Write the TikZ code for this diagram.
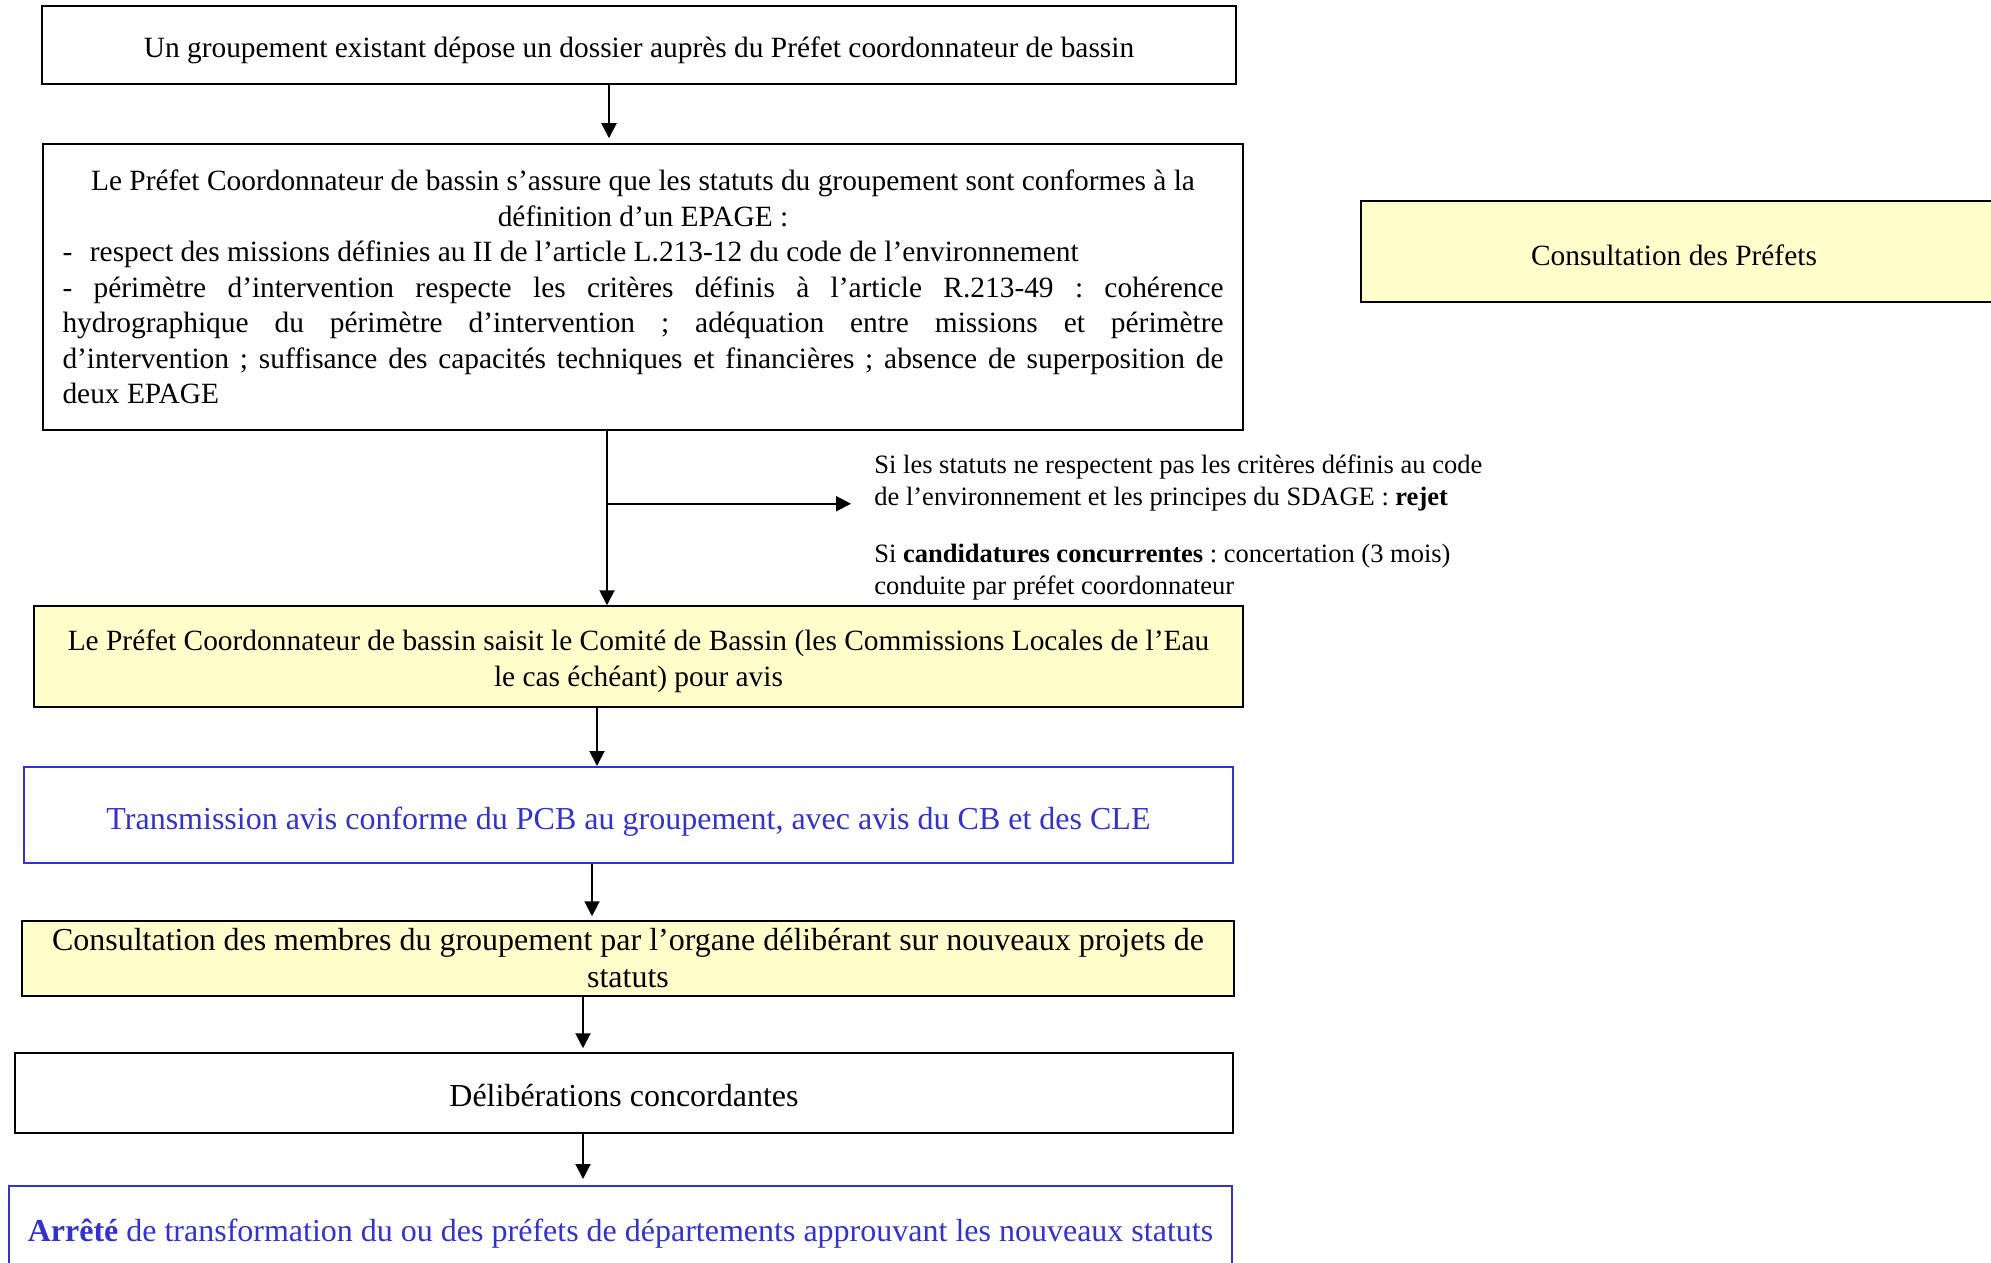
\documentclass[tikz,border=0pt]{standalone}
\usepackage{fontspec}
\setmainfont{Liberation Serif}
\usetikzlibrary{arrows.meta}
\usetikzlibrary{positioning}
\definecolor{jaunepale}{HTML}{FFFFCC}
\definecolor{bleuavis}{HTML}{3333CC}
\frenchspacing
\tikzset{
	haut/.initial=1.1em,
	etape/.style={
		draw,
		rectangle,
		line width=0.75pt,
		inner sep=0pt,
		align=center,
		font=\fontsize{14.7}{18}\selectfont,
		execute at begin node={\rule{0pt}{\pgfkeysvalueof{/tikz/haut}}}
	},
	grand/.style={
		font=\fontsize{16}{18.5}\selectfont
	},
	jaune/.style={
		etape,
		fill=jaunepale,
	},
	bleu/.style={
		etape,
		draw=bleuavis,
		line width=1pt,
		text=bleuavis,
	},
	note/.style={
		inner sep=0pt,
		align=left,
		anchor=west,
		font=\fontsize{13.25}{16}\selectfont
	},
	fleche/.style={
		line width=1pt,
		-{Triangle[length=7.5pt,width=7.5pt]}
	},
}

\begin{document}
\begin{tikzpicture}[x=0.5pt,y=-0.5pt]
		\useasboundingbox (0,0) rectangle (1991,1263);

		\node[etape, minimum width=597pt, minimum height=39pt] (depot) at (639,45) {Un groupement existant dépose un dossier auprès du Préfet coordonnateur de bassin};

		\node[draw, rectangle, line width=0.75pt, inner sep=0pt, minimum width=600pt, minimum height=143pt, text width=580.5pt, align=justify,
			font=\fontsize{14.7}{17.75}\selectfont] (examen) at (643,287) {%
			{\centering Le Préfet Coordonnateur de bassin s’assure que les statuts du groupement sont conformes à la\\ définition d’un EPAGE~:\par}
			\noindent -\hspace{0.6em}respect des missions définies au II de l’article L.213-12 du code de l’environnement\par
			\noindent - périmètre d’intervention respecte les critères définis à l’article R.213-49~: cohérence\linebreak
			hydrographique du périmètre d’intervention~; adéquation entre missions et périmètre\linebreak
			d’intervention~; suffisance des capacités techniques et financières~; absence de superposition de\linebreak
			deux EPAGE};

		\node[jaune, haut=0.93em, minimum width=320pt, minimum height=50.5pt] (prefets) at (1681,251.5) {\hspace*{-7pt}Consultation des Préfets};

		\node[note] (rejet) at (874,483) {Si les statuts ne respectent pas les critères définis au code\\ de l’environnement et les principes du SDAGE~: \textbf{rejet}};
		\node[note] (concert) at (874,572) {Si \textbf{candidatures concurrentes}~: concertation (3 mois)\\ conduite par préfet coordonnateur};

		\node[jaune, minimum width=604.5pt, minimum height=50.5pt] (saisine) at (638.5,656.5) {\rule{0pt}{1.01em}Le Préfet Coordonnateur de bassin saisit le Comité de Bassin (les Commissions Locales de l’Eau\\ le cas échéant) pour avis};

		\node[bleu, grand, minimum width=604.5pt, minimum height=48pt] (transmission) at (628.5,815) {Transmission avis conforme du PCB au groupement, avec avis du CB et des CLE};

		\node[jaune, grand, minimum width=606pt, minimum height=37.5pt] (consultation) at (628,958.5) {Consultation des membres du groupement par l’organe délibérant sur nouveaux projets de\\ statuts};

		\node[etape, grand, haut=0.86em, minimum width=609pt, minimum height=40pt] (deliberations) at (624,1093) {Délibérations concordantes};

		\node[bleu, grand, minimum width=611.5pt, minimum height=41pt] (arrete) at (620.5,1227) {\textbf{Arrêté} de transformation du ou des préfets de départements approuvant les nouveaux statuts};

%*********

		\draw[fleche, shorten >=2.5pt] 	([xshift=-15pt]depot.south) -- ([xshift=-15pt]depot.south |- examen.north);
		\draw[fleche] 					([xshift=-18pt]examen.south) -- ([xshift=-18pt]examen.south |- saisine.north);
		\coordinate (branche) at ([xshift=-18pt,yshift=-36.5pt]examen.south);
		\draw[fleche, shorten >=11.5pt] (branche) -- (branche -| rejet.west);

		\draw[fleche] 					([xshift=-20.75pt]saisine.south) -- ([xshift=-20.75pt]saisine.south |- transmission.north);
		\draw[fleche, shorten >=2pt] 	([xshift=-18.25pt]transmission.south) -- ([xshift=-18.25pt]transmission.south |- consultation.north);
		\draw[fleche, shorten >=2pt] 	([xshift=-22.5pt]consultation.south) -- ([xshift=-22.5pt]consultation.south |- deliberations.north);
		\draw[fleche, shorten >=3pt] 	([xshift=-20.5pt]deliberations.south) -- ([xshift=-20.5pt]deliberations.south |- arrete.north);

	\end{tikzpicture}
\end{document}
